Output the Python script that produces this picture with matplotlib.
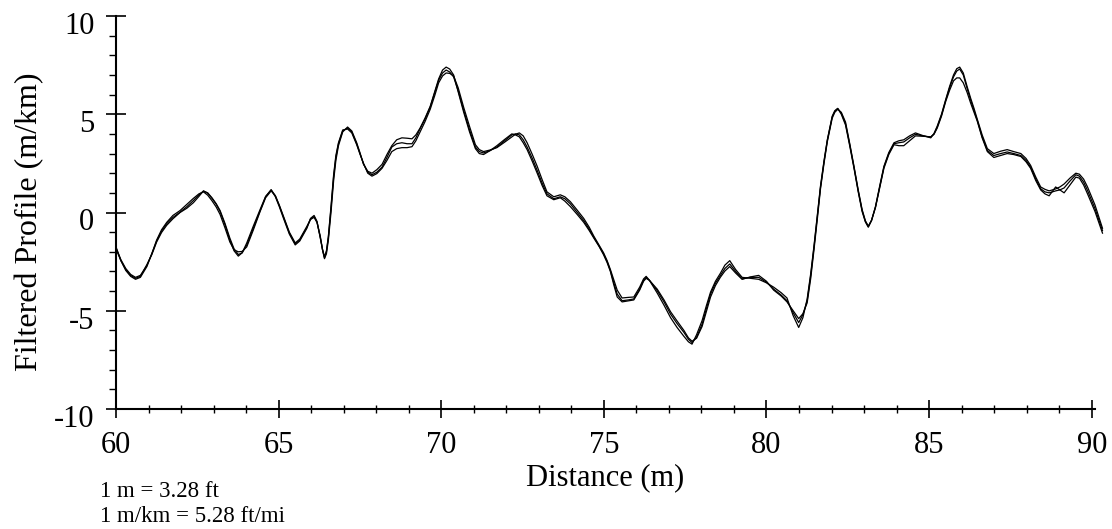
import numpy as np
import matplotlib
matplotlib.use('Agg')
import matplotlib.pyplot as plt
from matplotlib.ticker import MultipleLocator
from matplotlib.transforms import ScaledTranslation

# distance along the profile (m), shared by the three repeat runs
distance = [
    60.00, 60.15, 60.30, 60.45, 60.60, 60.75, 60.95, 61.10, 61.25, 61.40,
    61.56, 61.75, 61.97, 62.18, 62.38, 62.55, 62.69, 62.82, 62.95, 63.08,
    63.20, 63.35, 63.50, 63.63, 63.76, 63.88, 64.02, 64.22, 64.43, 64.60,
    64.77, 64.90, 65.02, 65.15, 65.33, 65.51, 65.65, 65.87, 65.98, 66.09,
    66.18, 66.28, 66.35, 66.41, 66.47, 66.53, 66.61, 66.69, 66.76, 66.84,
    66.97, 67.12, 67.25, 67.40, 67.50, 67.61, 67.74, 67.87, 68.02, 68.18,
    68.33, 68.48, 68.63, 68.79, 68.95, 69.10, 69.22, 69.35, 69.50, 69.66,
    69.80, 69.92, 70.04, 70.15, 70.26, 70.38, 70.52, 70.69, 70.87, 71.05,
    71.17, 71.30, 71.50, 71.71, 71.95, 72.17, 72.28, 72.40, 72.52, 72.64,
    72.80, 72.95, 73.10, 73.25, 73.46, 73.66, 73.80, 73.97, 74.18, 74.38,
    74.55, 74.69, 74.85, 74.99, 75.10, 75.20, 75.30, 75.41, 75.56, 75.75,
    75.92, 76.10, 76.22, 76.30, 76.40, 76.64, 76.85, 77.05, 77.25, 77.46,
    77.60, 77.71, 77.85, 78.02, 78.15, 78.28, 78.43, 78.58, 78.72, 78.87,
    79.05, 79.25, 79.50, 79.76, 80.00, 80.22, 80.45, 80.63, 80.82, 80.99,
    81.12, 81.25, 81.36, 81.46, 81.56, 81.66, 81.77, 81.87, 82.02, 82.10,
    82.19, 82.30, 82.43, 82.56, 82.69, 82.82, 82.94, 83.04, 83.13, 83.23,
    83.35, 83.48, 83.61, 83.76, 83.92, 84.07, 84.22, 84.40, 84.58, 84.80,
    85.05, 85.15, 85.25, 85.38, 85.51, 85.63, 85.75, 85.85, 85.94, 86.05,
    86.17, 86.28, 86.38, 86.48, 86.63, 86.79, 86.99, 87.20, 87.40, 87.60,
    87.82, 87.98, 88.12, 88.28, 88.43, 88.56, 88.69, 88.89, 89.02, 89.15,
    89.33, 89.51, 89.62, 89.75, 89.87, 90.10, 90.33,
]

# filtered profile (m/km), run 1
run_1 = [
    -1.80, -2.40, -2.85, -3.15, -3.30, -3.20, -2.70, -2.10, -1.45, -0.95,
    -0.57, -0.25, 0.02, 0.30, 0.61, 0.90, 1.09, 1.00, 0.75, 0.45,
    0.10, -0.55, -1.30, -1.85, -2.14, -2.05, -1.65, -0.80, 0.10, 0.80,
    1.16, 0.85, 0.35, -0.24, -1.05, -1.60, -1.40, -0.75, -0.35, -0.20,
    -0.50, -1.26, -1.90, -2.31, -2.00, -1.26, 0.20, 1.80, 2.80, 3.50,
    4.15, 4.30, 4.10, 3.50, 3.00, 2.48, 2.05, 1.92, 2.05, 2.31,
    2.80, 3.33, 3.50, 3.55, 3.50, 3.50, 3.80, 4.27, 4.75, 5.37,
    6.10, 6.73, 7.10, 7.25, 7.15, 6.90, 6.20, 5.20, 4.20, 3.33,
    3.10, 3.03, 3.15, 3.33, 3.65, 3.95, 4.00, 3.95, 3.70, 3.33,
    2.75, 2.14, 1.50, 0.95, 0.70, 0.80, 0.70, 0.44, 0.00, -0.41,
    -0.85, -1.26, -1.70, -2.10, -2.50, -2.96, -3.55, -4.15, -4.49, -4.45,
    -4.40, -3.90, -3.45, -3.30, -3.45, -3.98, -4.55, -5.17, -5.65, -6.10,
    -6.45, -6.62, -6.35, -5.68, -4.90, -4.15, -3.60, -3.21, -2.85, -2.62,
    -3.00, -3.38, -3.30, -3.30, -3.55, -3.90, -4.20, -4.49, -5.10, -5.60,
    -5.20, -4.49, -3.20, -1.77, -0.25, 1.29, 2.60, 3.67, 4.86, 5.15,
    5.29, 5.05, 4.52, 3.45, 2.31, 1.10, 0.10, -0.45, -0.71, -0.40,
    0.27, 1.30, 2.31, 3.00, 3.50, 3.55, 3.59, 3.80, 3.98, 3.90,
    3.84, 4.00, 4.35, 4.95, 5.71, 6.35, 6.90, 7.20, 7.30, 7.00,
    6.30, 5.70, 5.20, 4.69, 3.85, 3.16, 2.90, 3.00, 3.08, 3.00,
    2.90, 2.65, 2.31, 1.70, 1.21, 1.05, 1.00, 1.10, 1.15, 1.25,
    1.60, 1.92, 1.85, 1.55, 1.12, 0.20, -0.92,
]

# run 2
run_2 = [
    -1.75, -2.45, -2.95, -3.25, -3.40, -3.30, -2.75, -2.10, -1.40, -0.88,
    -0.50, -0.15, 0.10, 0.42, 0.72, 0.95, 1.05, 0.88, 0.60, 0.28,
    -0.10, -0.78, -1.50, -1.90, -2.00, -1.98, -1.75, -0.90, 0.05, 0.75,
    1.10, 0.85, 0.38, -0.20, -1.00, -1.55, -1.35, -0.70, -0.35, -0.25,
    -0.50, -1.20, -1.90, -2.35, -2.10, -1.40, 0.00, 1.60, 2.65, 3.40,
    4.10, 4.35, 4.15, 3.55, 3.05, 2.45, 2.10, 2.00, 2.18, 2.45,
    2.95, 3.40, 3.70, 3.80, 3.78, 3.75, 3.95, 4.30, 4.80, 5.40,
    6.15, 6.80, 7.25, 7.40, 7.30, 7.00, 6.15, 5.10, 4.10, 3.25,
    3.00, 2.95, 3.15, 3.40, 3.72, 4.00, 3.95, 3.85, 3.55, 3.20,
    2.60, 2.00, 1.38, 0.85, 0.65, 0.75, 0.58, 0.30, -0.10, -0.50,
    -0.92, -1.30, -1.72, -2.15, -2.55, -3.00, -3.65, -4.30, -4.55, -4.50,
    -4.45, -3.95, -3.50, -3.35, -3.45, -3.90, -4.45, -5.05, -5.52, -6.00,
    -6.38, -6.55, -6.40, -5.80, -5.05, -4.30, -3.72, -3.30, -2.98, -2.75,
    -3.08, -3.40, -3.28, -3.20, -3.50, -3.95, -4.25, -4.55, -5.00, -5.40,
    -5.15, -4.60, -3.35, -1.90, -0.38, 1.20, 2.52, 3.60, 4.80, 5.10,
    5.25, 5.10, 4.60, 3.50, 2.35, 1.15, 0.15, -0.42, -0.70, -0.40,
    0.25, 1.25, 2.25, 2.95, 3.45, 3.40, 3.40, 3.65, 3.90, 3.88,
    3.85, 3.98, 4.30, 4.90, 5.65, 6.22, 6.70, 6.85, 6.85, 6.60,
    6.10, 5.55, 5.10, 4.65, 3.80, 3.10, 2.80, 2.90, 3.00, 2.95,
    2.85, 2.58, 2.25, 1.62, 1.15, 0.95, 0.85, 1.30, 1.15, 1.00,
    1.40, 1.80, 1.75, 1.40, 0.95, 0.05, -1.05,
]

# run 3
run_3 = [
    -1.85, -2.45, -2.90, -3.20, -3.35, -3.25, -2.65, -2.15, -1.50, -1.02,
    -0.65, -0.32, 0.00, 0.22, 0.50, 0.82, 1.10, 0.98, 0.72, 0.42,
    0.05, -0.62, -1.40, -1.95, -2.22, -2.05, -1.55, -0.70, 0.15, 0.82,
    1.15, 0.80, 0.30, -0.30, -1.10, -1.65, -1.45, -0.80, -0.30, -0.15,
    -0.45, -1.30, -1.88, -2.25, -1.95, -1.20, 0.30, 1.90, 2.90, 3.55,
    4.20, 4.25, 4.05, 3.45, 2.98, 2.50, 2.00, 1.85, 1.98, 2.25,
    2.65, 3.10, 3.25, 3.30, 3.30, 3.35, 3.65, 4.10, 4.62, 5.25,
    5.95, 6.60, 6.95, 7.10, 7.08, 6.95, 6.35, 5.35, 4.38, 3.45,
    3.20, 3.10, 3.18, 3.30, 3.58, 3.85, 3.98, 4.05, 3.90, 3.55,
    2.95, 2.35, 1.68, 1.05, 0.80, 0.90, 0.80, 0.55, 0.12, -0.30,
    -0.75, -1.20, -1.65, -2.05, -2.45, -2.90, -3.40, -3.95, -4.35, -4.32,
    -4.30, -3.80, -3.38, -3.25, -3.45, -4.10, -4.72, -5.35, -5.85, -6.30,
    -6.58, -6.70, -6.22, -5.50, -4.75, -4.05, -3.50, -3.10, -2.68, -2.45,
    -2.90, -3.30, -3.35, -3.40, -3.58, -3.80, -4.08, -4.35, -5.25, -5.85,
    -5.35, -4.40, -3.10, -1.70, -0.18, 1.35, 2.65, 3.70, 4.90, 5.18,
    5.30, 5.00, 4.45, 3.38, 2.25, 1.05, 0.05, -0.48, -0.75, -0.40,
    0.30, 1.35, 2.35, 3.05, 3.55, 3.65, 3.70, 3.90, 4.05, 3.92,
    3.80, 4.02, 4.40, 5.00, 5.75, 6.42, 7.00, 7.32, 7.40, 7.10,
    6.40, 5.80, 5.30, 4.75, 3.95, 3.25, 3.00, 3.12, 3.20, 3.10,
    3.00, 2.75, 2.40, 1.80, 1.30, 1.18, 1.10, 1.20, 1.30, 1.45,
    1.75, 2.00, 1.95, 1.70, 1.30, 0.38, -0.80,
]

X_LIM = (60, 90.1)
Y_LIM = (-10, 10)
X_TICKS = [60, 65, 70, 75, 80, 85, 90]
Y_TICKS = [-10, -5, 0, 5, 10]
NOTES = ['1 m = 3.28 ft', '1 m/km = 5.28 ft/mi']

W, H = 1112, 529
plt.rcParams['font.family'] = ['Liberation Serif', 'DejaVu Serif']
plt.rcParams['axes.unicode_minus'] = False


def fx(px):
    return px / W


def fy(py):
    return 1 - py / H


fig = plt.figure(figsize=(W / 100, H / 100), dpi=100)
ax = fig.add_axes([fx(116), fy(409), fx(1095) - fx(116), fy(16) - fy(409)])

for run in (run_1, run_2, run_3):
    ax.plot(distance, run, color='black', lw=0.9, clip_on=False)

ax.set_xlim(*X_LIM)
ax.set_ylim(*Y_LIM)
ax.set_xticks(X_TICKS)
ax.set_yticks(Y_TICKS)
ax.xaxis.set_minor_locator(MultipleLocator(1))
ax.yaxis.set_minor_locator(MultipleLocator(1))

for side in ('top', 'right'):
    ax.spines[side].set_visible(False)
for side in ('left', 'bottom'):
    ax.spines[side].set_linewidth(1.5)

ax.tick_params(axis='x', which='major', direction='inout', length=13,
               width=1.2, labelsize=22, pad=9)
ax.tick_params(axis='x', which='minor', direction='inout', length=6, width=1.0)
ax.tick_params(axis='y', which='major', direction='inout', length=15,
               width=1.2, labelsize=22, pad=8)
ax.tick_params(axis='y', which='minor', direction='out', length=5, width=1.0)

# y tick labels sit a little below their ticks in the original
shift = ScaledTranslation(0, -7 / 100, fig.dpi_scale_trans)
for lab in ax.get_yticklabels():
    lab.set_transform(lab.get_transform() + shift)

fig.text(fx(605), fy(485), 'Distance (m)', ha='center', va='baseline',
         fontsize=22)
fig.text(fx(30), fy(222), 'Filtered Profile (m/km)', ha='center',
         va='center', rotation=90, fontsize=23)
fig.text(fx(100), fy(497), NOTES[0], ha='left', va='baseline', fontsize=16.5)
fig.text(fx(100), fy(522), NOTES[1], ha='left', va='baseline', fontsize=16.5)

fig.savefig('out.png', dpi=100)
